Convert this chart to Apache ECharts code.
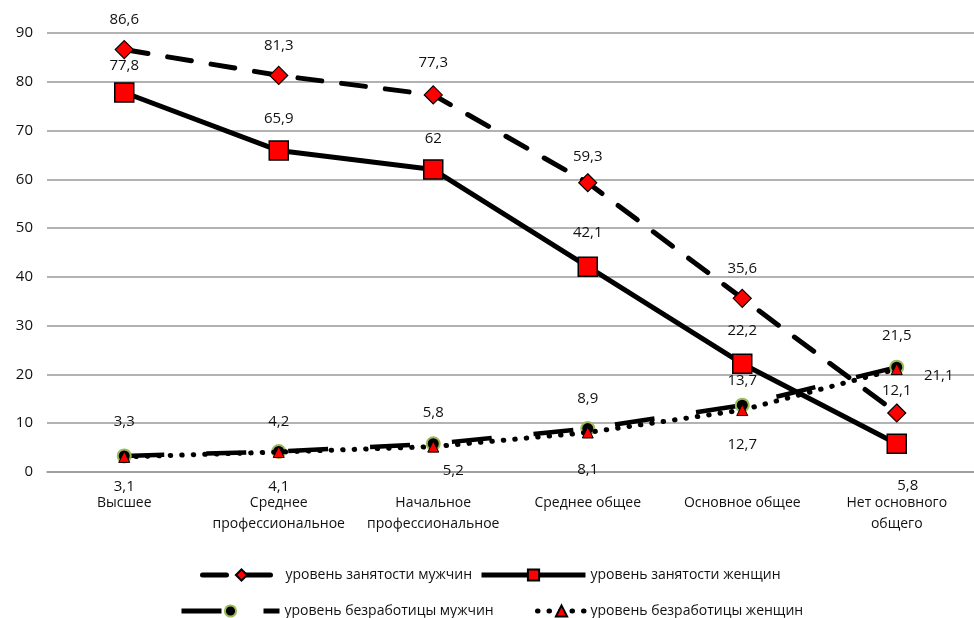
<!DOCTYPE html>
<html>
<head>
<meta charset="utf-8">
<script src="https://cdn.jsdelivr.net/npm/echarts@6/dist/echarts.min.js"></script>
<style>
html,body{margin:0;padding:0;background:#fff;}
#chart{width:974px;height:618px;}
</style>
</head>
<body>
<div id="chart"></div>
<script>
const categories = ['Высшее', 'Среднее\nпрофессиональное', 'Начальное\nпрофессиональное', 'Среднее общее', 'Основное общее', 'Нет основного\nобщего'];
const menEmployment = [86.6, 81.3, 77.3, 59.3, 35.6, 12.1];
const womenEmployment = [77.8, 65.9, 62, 42.1, 22.2, 5.8];
const menUnemployment = [3.3, 4.2, 5.8, 8.9, 13.7, 21.5];
const womenUnemployment = [3.1, 4.1, 5.2, 8.1, 12.7, 21.1];
const yMin = 0, yMax = 90, yStep = 10;

const names = ['уровень занятости мужчин', 'уровень занятости женщин', 'уровень безработицы мужчин', 'уровень безработицы женщин'];

// label offsets (layout only)
const offMenEmp = [[0,-30],[0,-30],[0,-32],[0,-26],[0,-30],[0,-22]];
const offWomenEmp = [[0,-27],[0,-32],[0,-31],[0,-34],[0,-33],[11,42]];
const offMenUn = [[0,-34],[0,-30],[0,-31],[0,-30],[0,-24],[0,-31]];
const offWomenUn = [[0,30],[0,35],[20,24],[0,37],[0,35],[42,7]];

const FONT = '"Open Sans", "Noto Sans", sans-serif';
const TXT = '#111';
const fmt = p => String(p.value).replace('.', ',');

function withLabels(values, offsets) {
  return values.map((v, i) => ({
    value: v,
    label: { show: true, position: 'inside', offset: offsets[i], formatter: fmt,
             color: TXT, fontSize: 15, fontFamily: FONT }
  }));
}

function legendAt(name, left, top, w) {
  return { data: [name], left: left, top: top, itemWidth: w, itemHeight: 14,
    lineStyle: { width: 5 },
    textStyle: { fontSize: 14, fontFamily: FONT, color: TXT } };
}

const chart = echarts.init(document.getElementById('chart'));
chart.setOption({
  animation: false,
  backgroundColor: '#fff',
  grid: { left: 47, right: -11, top: 33, bottom: 146, containLabel: false },
  legend: [
    legendAt(names[0], 195, 563, 78),
    legendAt(names[1], 474, 563, 104),
    legendAt(names[2], 174, 599, 98),
    legendAt(names[3], 530, 599, 48)
  ],
  xAxis: {
    type: 'category',
    data: categories,
    boundaryGap: true,
    axisLine: { show: true, lineStyle: { color: '#999', width: 1.5 } },
    axisTick: { show: false },
    axisLabel: { color: TXT, fontSize: 14, fontFamily: FONT, margin: 21, lineHeight: 21, interval: 0 }
  },
  yAxis: {
    type: 'value',
    min: yMin, max: yMax, interval: yStep,
    axisLine: { show: false },
    axisTick: { show: false },
    axisLabel: { color: TXT, fontSize: 15, fontFamily: FONT, margin: 14 },
    splitLine: { lineStyle: { color: '#999', width: 1.5 } }
  },
  series: [
    {
      name: names[0], type: 'line', data: withLabels(menEmployment, offMenEmp),
      symbol: 'diamond', symbolSize: 18,
      itemStyle: { color: '#ff0000', borderColor: '#000', borderWidth: 1.2 },
      lineStyle: { color: '#000', width: 5, type: [24, 20], cap: 'round' },
      z: 3
    },
    {
      name: names[1], type: 'line', data: withLabels(womenEmployment, offWomenEmp),
      symbol: 'rect', symbolSize: 19,
      itemStyle: { color: '#ff0000', borderColor: '#000', borderWidth: 1.5 },
      lineStyle: { color: '#000', width: 5, type: 'solid' },
      z: 3
    },
    {
      name: names[2], type: 'line', data: withLabels(menUnemployment, offMenUn),
      symbol: 'circle', symbolSize: 13,
      itemStyle: { color: '#000', borderColor: '#9bbb59', borderWidth: 2 },
      lineStyle: { color: '#000', width: 4.5, type: [40, 42], cap: 'butt' },
      z: 4
    },
    {
      name: names[3], type: 'line', data: withLabels(womenUnemployment, offWomenUn),
      symbol: 'triangle', symbolSize: 11,
      itemStyle: { color: '#ff0000', borderColor: '#000', borderWidth: 1 },
      lineStyle: { color: '#000', width: 5, type: [0.5, 11], cap: 'round' },
      z: 5
    }
  ]
});
</script>
</body>
</html>
